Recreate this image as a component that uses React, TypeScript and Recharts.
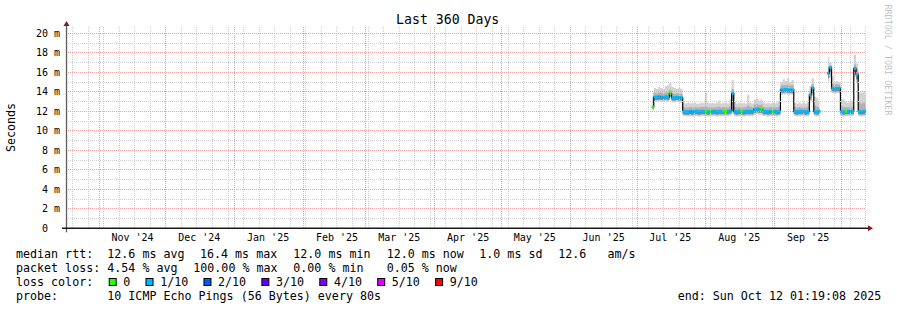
import React from "react";
import { ComposedChart, Area, Line, Scatter, XAxis, YAxis, ReferenceLine } from "recharts";

// ---- data (one reading per day; x = days since Oct 17 2024 01:19) ----
const FIRST_DAY = 264;

const medianMs = [
  12.45,
  13.45, 13.45, 13.5, 13.45, 13.45, 13.5, 13.45,
  13.85,
  13.4, 13.4, 13.45, 13.4, 13.4,
  12.0, 11.95, 11.95, 12.0, 11.95, 12.0, 12.0, 11.95, 12.0, 12.0, 12.0,
  11.95, 12.0, 12.0, 12.0, 11.95, 12.0, 12.0, 12.0, 12.0, 12.0, 12.05,
  13.85,
  12.0, 11.95, 12.0, 12.0, 11.95, 12.0, 12.0, 12.0, 12.0,
  12.2, 12.25, 12.2, 12.2,
  12.0, 12.0, 11.95, 12.0, 12.0, 12.0, 11.95, 12.0,
  14.2, 14.2, 14.25, 14.2, 14.2, 14.2,
  12.0, 11.95, 12.0, 12.0, 12.0, 11.95, 12.0,
  13.7, 14.4,
  12.0, 11.95, 12.0,
  null, null, null,
  15.9, 16.5, 14.35, 14.3, 14.35, 14.35,
  12.0, 11.95, 12.0, 12.0, 12.0, 12.0,
  16.4, 15.8,
  12.0, 11.95, 12.0, 12.0,
];

const maxMs = [
  13.9,
  14.4, 14.3, 14.5, 14.4, 14.3, 14.6, 14.7,
  14.9,
  14.5, 14.4, 14.3, 14.4, 14.3,
  12.9, 12.8, 12.9, 12.8, 12.85, 12.9, 12.8, 12.8, 12.9, 12.85, 13.9,
  12.9, 12.8, 12.85, 12.8, 12.9, 13.1, 12.8, 12.85, 12.9, 12.8, 13.2,
  15.2,
  13.0, 12.8, 12.9, 12.8, 12.85, 12.8, 13.7, 12.9, 12.8,
  13.2, 13.3, 13.1, 13.2,
  12.9, 12.8, 12.85, 12.8, 12.9, 12.8, 12.9, 13.0,
  15.0, 15.3, 15.1, 15.4, 15.0, 15.2,
  12.9, 12.8, 12.9, 12.8, 12.9, 12.8, 13.0,
  14.6, 15.4,
  13.5, 13.4, 13.0,
  null, null, null,
  17.6, 17.0, 15.6, 15.0, 15.1, 15.0,
  13.3, 13.2, 13.0, 12.9, 13.1, 13.0,
  17.8, 16.9,
  14.0, 13.9, 14.0, 13.8,
];

const upperMs = [
  13.5,
  13.9, 13.85, 13.95, 13.9, 13.85, 13.95, 13.9,
  14.2,
  13.85, 13.8, 13.85, 13.8, 13.8,
  12.45, 12.4, 12.4, 12.45, 12.4, 12.45, 12.4, 12.4, 12.45, 12.45, 12.5,
  12.4, 12.45, 12.4, 12.4, 12.45, 12.5, 12.4, 12.45, 12.45, 12.4, 12.5,
  14.3,
  12.45, 12.4, 12.45, 12.4, 12.4, 12.45, 12.6, 12.45, 12.4,
  12.7, 12.75, 12.65, 12.7,
  12.45, 12.4, 12.4, 12.45, 12.45, 12.4, 12.45, 12.5,
  14.65, 14.7, 14.7, 14.75, 14.65, 14.7,
  12.45, 12.4, 12.45, 12.4, 12.45, 12.4, 12.5,
  14.1, 14.8,
  12.6, 12.5, 12.45,
  null, null, null,
  16.5, 16.7, 14.8, 14.75, 14.8, 14.75,
  12.5, 12.45, 12.45, 12.4, 12.5, 12.45,
  16.8, 16.3,
  12.9, 12.8, 12.9, 12.7,
];

const lowerMs = [
  12.2,
  13.15, 13.15, 13.2, 13.15, 13.15, 13.2, 13.15,
  13.5,
  13.1, 13.1, 13.15, 13.1, 13.1,
  11.7, 11.65, 11.65, 11.7, 11.65, 11.7, 11.7, 11.65, 11.7, 11.7, 11.7,
  11.65, 11.7, 11.7, 11.7, 11.65, 11.7, 11.7, 11.7, 11.7, 11.7, 11.75,
  12.0,
  11.7, 11.65, 11.7, 11.7, 11.65, 11.7, 11.7, 11.7, 11.7,
  11.85, 11.9, 11.85, 11.85,
  11.7, 11.7, 11.65, 11.7, 11.7, 11.7, 11.65, 11.7,
  13.9, 13.9, 13.95, 13.9, 13.9, 13.9,
  11.7, 11.65, 11.7, 11.7, 11.7, 11.65, 11.7,
  13.2, 13.9,
  11.7, 11.65, 11.7,
  null, null, null,
  15.4, 15.9, 14.05, 14.0, 14.05, 14.05,
  11.7, 11.65, 11.7, 11.7, 11.7, 11.7,
  15.9, 15.3,
  11.7, 11.65, 11.7, 11.7,
];

const minMs = [
  12.0,
  12.95, 12.95, 13.0, 12.95, 12.95, 13.0, 12.95,
  13.2,
  12.9, 12.9, 12.95, 12.9, 12.9,
  11.5, 11.5, 11.45, 11.5, 11.45, 11.5, 11.5, 11.45, 11.5, 11.5, 11.5,
  11.45, 11.5, 11.5, 11.5, 11.45, 11.5, 11.5, 11.5, 11.5, 11.5, 11.55,
  11.8,
  11.5, 11.45, 11.5, 11.5, 11.45, 11.5, 11.5, 11.5, 11.5,
  11.65, 11.7, 11.65, 11.65,
  11.5, 11.5, 11.45, 11.5, 11.5, 11.5, 11.45, 11.5,
  13.7, 13.7, 13.75, 13.7, 13.7, 13.7,
  11.5, 11.45, 11.5, 11.5, 11.5, 11.45, 11.5,
  12.9, 13.6,
  11.5, 11.45, 11.5,
  null, null, null,
  15.0, 15.5, 13.85, 13.8, 13.85, 13.85,
  11.5, 11.45, 11.5, 11.5, 11.5, 11.5,
  15.5, 14.9,
  11.5, 11.45, 11.5, 11.5,
];

// packet loss per reading, in tenths (0 .. 10)
const lossTenths = [
  0,
  1, 1, 1, 1, 1, 1, 1,
  0,
  1, 1, 1, 1, 1,
  1, 1, 1, 1, 1, 1, 1, 1, 1, 1, 0,
  1, 0, 1, 1, 1, 1, 1, 0, 0, 1, 1,
  1,
  1, 1, 1, 0, 1, 1, 1, 1, 1,
  1, 1, 1, 0,
  1, 1, 1, 1, 0, 1, 1, 1,
  1, 1, 1, 1, 1, 1,
  1, 1, 1, 1, 1, 1, 1,
  1, 1,
  1, 1, 1,
  null, null, null,
  1, 1, 1, 1, 1, 1,
  1, 1, 0, 1, 1, 1,
  1, 1,
  1, 1, 1, 1,
];

// ---- axes ----
const monthStartDays = [14.95, 44.95, 75.95, 106.95, 134.95, 165.95, 195.95, 226.95, 256.95, 287.95, 318.95, 348.95];
const monthLabels = ["Nov '24", "Dec '24", "Jan '25", "Feb '25", "Mar '25", "Apr '25", "May '25", "Jun '25", "Jul '25", "Aug '25", "Sep '25"];
const FIRST_WEEK_LINE = 2.945;
const yMajor = [0, 2, 4, 6, 8, 10, 12, 14, 16, 18, 20];
const yMinor = [1, 3, 5, 7, 9, 11, 13, 15, 17, 19];
const yLabels = ["0", "2 m", "4 m", "6 m", "8 m", "10 m", "12 m", "14 m", "16 m", "18 m", "20 m"];

// ---- legend text ----
const title = "Last 360 Days";
const yTitle = "Seconds";
const watermark = "RRDTOOL / TOBI OETIKER";
const rttLine = ["median rtt:", "12.6 ms avg", "16.4 ms max", "12.0 ms min", "12.0 ms now", "1.0 ms sd", "12.6   am/s"];
const lossLine = ["packet loss:", "4.54 % avg", "100.00 % max", "0.00 % min", "0.05 % now"];
const lossLegend = [
  { label: "0", color: "#26ff00" },
  { label: "1/10", color: "#00b8ff" },
  { label: "2/10", color: "#0059ff" },
  { label: "3/10", color: "#5e00ff" },
  { label: "4/10", color: "#7e00ff" },
  { label: "5/10", color: "#dd00ff" },
  { label: "9/10", color: "#ff0000" },
];
const LOSS_COLOR: Record<number, string> = { 0: "#26ff00", 1: "#00b8ff", 2: "#0059ff", 3: "#5e00ff", 4: "#7e00ff", 5: "#dd00ff", 9: "#ff0000" };
const probeLine = ["probe:", "10 ICMP Echo Pings (56 Bytes) every 80s"];
const endText = "end: Sun Oct 12 01:19:08 2025";

// ---- table for recharts ----
const rows = medianMs.map((m, i) => ({
  day: FIRST_DAY + i,
  median: m,
  outer: m == null ? null : [minMs[i], maxMs[i]],
  inner: m == null ? null : [lowerMs[i], upperMs[i]],
  core: m == null ? null : [lowerMs[i], m],
  loss: lossTenths[i],
}));
const labelDays = monthStartDays.slice(0, monthLabels.length).map((d) => d + 15);
const weekDays: number[] = [];
for (let d = FIRST_WEEK_LINE; d < 360; d += 7) weekDays.push(d);

// ---- layout ----
const W = 897;
const H = 310;
const PL = 66;
const PR = 866;
const PT = 26;
const PB = 228.3;
const MONO = "'DejaVu Sans Mono', monospace";
const CW = 7.03;

const XTick = (p: any) => (
  <text x={p.x} y={p.y + 9.5} textAnchor="middle" dominantBaseline="central" fontFamily={MONO} fontSize={10} fill="#000">
    {monthLabels[p.index]}
  </text>
);
const YTick = (p: any) => {
  const label = yLabels[p.index];
  const shift = p.payload.value === 0 ? 12 : 0;
  return (
    <text x={p.x - 6 - shift} y={p.y} textAnchor="end" dominantBaseline="central" fontFamily={MONO} fontSize={10} fill="#000">
      {label}
    </text>
  );
};

const MedianMark = (p: any) => {
  if (!p || p.payload == null || p.payload.median == null || p.cy == null) return <g />;
  const c = LOSS_COLOR[p.payload.loss] ?? "#00b8ff";
  return <rect x={p.cx - 1.2} y={p.cy - 1.5} width={2.4} height={3} fill={c} />;
};

const MINOR = "#cfcfcf";
const MAJOR = "#ef9f9f";

export default function App() {
  const legendX0 = 16;
  const valueX = 107.3;
  const rttX = [legendX0, valueX, 200, 293.3, 386.7, 479.3, 558.3];
  const lossX = [legendX0, valueX, 193.3, 293.3, 386.7];
  const boxes: { x: number; label: string; color: string }[] = [];
  let bx = 108.7;
  for (const it of lossLegend) {
    boxes.push({ x: bx, label: it.label, color: it.color });
    bx += 14.6 + it.label.length * CW + 15.2;
  }
  const textStyle: React.CSSProperties = { whiteSpace: "pre" };

  return (
    <div style={{ position: "absolute", left: 0, top: 0, width: W, height: H, background: "#fff", overflow: "hidden" }}>
      <ComposedChart
        width={W}
        height={H}
        data={rows}
        margin={{ top: PT, right: W - PR, bottom: H - PB - 20, left: 0 }}
      >
        <XAxis
          dataKey="day"
          type="number"
          domain={[0, 360]}
          ticks={labelDays}
          tick={XTick}
          tickSize={0}
          tickMargin={0}
          axisLine={false}
          tickLine={false}
          height={20}
          allowDataOverflow
          interval={0}
        />
        <YAxis
          type="number"
          domain={[0, 20.75]}
          ticks={yMajor}
          tick={YTick}
          tickSize={0}
          tickMargin={0}
          axisLine={false}
          tickLine={false}
          width={PL}
          allowDataOverflow
          interval={0}
        />
        <Area dataKey="outer" type="step" fill="#d3d3d3" fillOpacity={1} stroke="none" isAnimationActive={false} />
        <Area dataKey="inner" type="step" fill="#b2b2b2" fillOpacity={1} stroke="none" isAnimationActive={false} />
        <Area dataKey="core" type="step" fill="#858585" fillOpacity={1} stroke="none" isAnimationActive={false} />
        <Line dataKey="median" type="step" stroke="#000" strokeWidth={1.2} dot={false} activeDot={false} isAnimationActive={false} />
        <Scatter dataKey="median" shape={MedianMark} isAnimationActive={false} />
        {yMinor.map((v) => (
          <ReferenceLine key={"ym" + v} y={v} stroke={MINOR} strokeDasharray="1 1" shapeRendering="crispEdges" />
        ))}
        {weekDays.map((d) => (
          <ReferenceLine key={"xw" + d} x={d} stroke={MINOR} strokeDasharray="1 1" shapeRendering="crispEdges" />
        ))}
        {yMajor.filter((v) => v > 0).map((v) => (
          <ReferenceLine key={"yM" + v} y={v} stroke={MAJOR} strokeDasharray="1 1" shapeRendering="crispEdges" />
        ))}
        {monthStartDays.map((d) => (
          <ReferenceLine key={"xM" + d} x={d} stroke={MAJOR} strokeDasharray="1 1" shapeRendering="crispEdges" />
        ))}
      </ComposedChart>

      <svg width={W} height={H} style={{ position: "absolute", left: 0, top: 0, pointerEvents: "none" }} fontFamily={MONO}>
        <text x={447.7} y={19.3} textAnchor="middle" dominantBaseline="central" fontSize={13.2} fill="#000">
          {title}
        </text>
        <text transform="translate(11,127.5) rotate(-90)" textAnchor="middle" dominantBaseline="central" fontSize={11.67} fill="#000">
          {yTitle}
        </text>
        <text transform="translate(888,60) rotate(90)" textAnchor="middle" dominantBaseline="central" fontSize={8.4} fill="#c4c4c4">
          {watermark}
        </text>

        {/* axes */}
        <line x1={PL + 0.5} x2={PL + 0.5} y1={PB + 4} y2={PT - 2} stroke="#5c5c5c" strokeWidth={1.3} />
        <line x1={62} x2={869} y1={PB} y2={PB} stroke="#1a1a1a" strokeWidth={1.6} />
        <polygon points={`${PL - 2.5},${PT} ${PL + 3.5},${PT} ${PL + 0.5},${PT - 5}`} fill="#7f1f1f" />
        <polygon points={`${PR + 2},${PB - 3} ${PR + 2},${PB + 3} ${PR + 7},${PB}`} fill="#7f1f1f" />

        {/* legend */}
        {rttLine.map((t, i) => (
          <text key={"r" + i} x={rttX[i]} y={254} dominantBaseline="central" fontSize={11.67} fill="#000" style={textStyle}>
            {t}
          </text>
        ))}
        {lossLine.map((t, i) => (
          <text key={"l" + i} x={lossX[i]} y={268.3} dominantBaseline="central" fontSize={11.67} fill="#000" style={textStyle}>
            {t}
          </text>
        ))}
        <text x={legendX0} y={282.3} dominantBaseline="central" fontSize={11.67} fill="#000">
          loss color:
        </text>
        {boxes.map((b) => (
          <g key={b.label}>
            <rect x={b.x + 0.5} y={278.5} width={7} height={7} fill={b.color} stroke="#000" strokeWidth={1} />
            <text x={b.x + 14.6} y={282.3} dominantBaseline="central" fontSize={11.67} fill="#000">
              {b.label}
            </text>
          </g>
        ))}
        <text x={legendX0} y={296.3} dominantBaseline="central" fontSize={11.67} fill="#000">
          {probeLine[0]}
        </text>
        <text x={valueX} y={296.3} dominantBaseline="central" fontSize={11.67} fill="#000">
          {probeLine[1]}
        </text>
        <text x={677.7} y={296.3} dominantBaseline="central" fontSize={11.67} fill="#000">
          {endText}
        </text>
      </svg>
    </div>
  );
}
